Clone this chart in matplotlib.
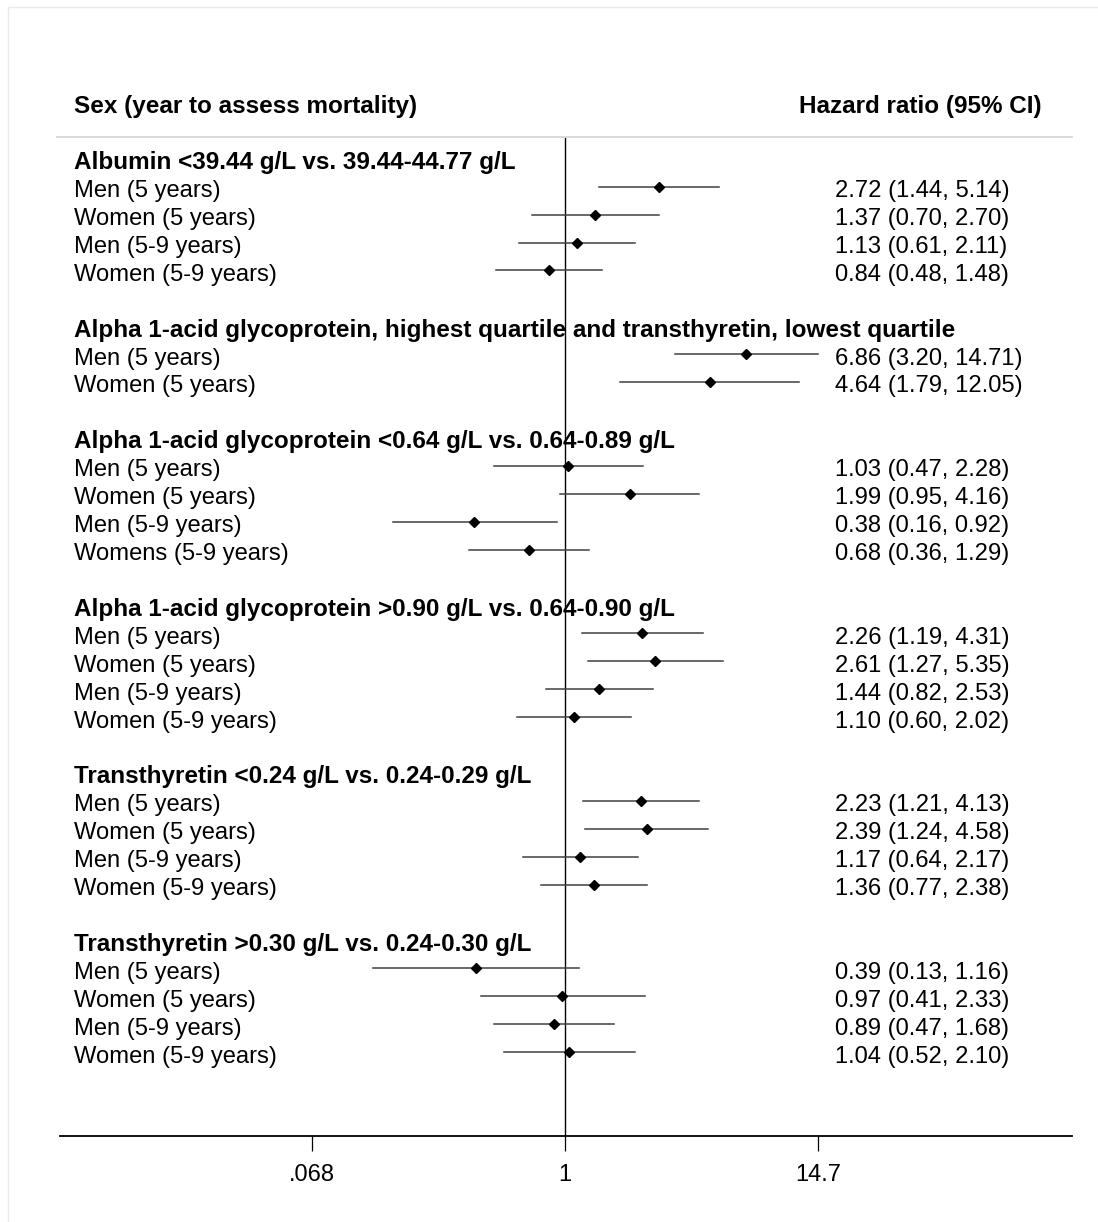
import matplotlib
matplotlib.use("Agg")
import matplotlib.pyplot as plt
import matplotlib.transforms as mtransforms
from matplotlib.lines import Line2D
from matplotlib.patches import Rectangle

plt.rcParams['font.family'] = ['Liberation Sans', 'DejaVu Sans']

# Subgroup headings and their rows
group_titles = [
    "Albumin <39.44 g/L vs. 39.44-44.77 g/L",
    "Alpha 1-acid glycoprotein, highest quartile and transthyretin, lowest quartile",
    "Alpha 1-acid glycoprotein <0.64 g/L vs. 0.64-0.89 g/L",
    "Alpha 1-acid glycoprotein >0.90 g/L vs. 0.64-0.90 g/L",
    "Transthyretin <0.24 g/L vs. 0.24-0.29 g/L",
    "Transthyretin >0.30 g/L vs. 0.24-0.30 g/L",
]
group_labels = [
    ["Men (5 years)", "Women (5 years)", "Men (5-9 years)", "Women (5-9 years)"],
    ["Men (5 years)", "Women (5 years)"],
    ["Men (5 years)", "Women (5 years)", "Men (5-9 years)", "Womens (5-9 years)"],
    ["Men (5 years)", "Women (5 years)", "Men (5-9 years)", "Women (5-9 years)"],
    ["Men (5 years)", "Women (5 years)", "Men (5-9 years)", "Women (5-9 years)"],
    ["Men (5 years)", "Women (5 years)", "Men (5-9 years)", "Women (5-9 years)"],
]
hazard_ratio = [
    [2.72, 1.37, 1.13, 0.84],
    [6.86, 4.64],
    [1.03, 1.99, 0.38, 0.68],
    [2.26, 2.61, 1.44, 1.10],
    [2.23, 2.39, 1.17, 1.36],
    [0.39, 0.97, 0.89, 1.04],
]
ci_low = [
    [1.44, 0.70, 0.61, 0.48],
    [3.20, 1.79],
    [0.47, 0.95, 0.16, 0.36],
    [1.19, 1.27, 0.82, 0.60],
    [1.21, 1.24, 0.64, 0.77],
    [0.13, 0.41, 0.47, 0.52],
]
ci_high = [
    [5.14, 2.70, 2.11, 1.48],
    [14.71, 12.05],
    [2.28, 4.16, 0.92, 1.29],
    [4.31, 5.35, 2.53, 2.02],
    [4.13, 4.58, 2.17, 2.38],
    [1.16, 2.33, 1.68, 2.10],
]
tick_values = [0.068, 1, 14.7]
tick_labels = [".068", "1", "14.7"]

W, H = 1098, 1222
fig = plt.figure(figsize=(W / 100, H / 100), dpi=100)
fig.patch.set_facecolor("white")

# faint frame on left and top
fig.patches.append(Rectangle((8 / W, -0.5), 2.0, 0.5 + (1 - 7 / H),
                             transform=fig.transFigure, fill=False,
                             edgecolor="#e3ecec", linewidth=1.0))

ax_left, ax_right = 60 / W, 1072 / W
ax_top, ax_bottom = 1 - 138 / H, 1 - 1136 / H
ax = fig.add_axes([ax_left, ax_bottom, ax_right - ax_left, ax_top - ax_bottom])
ax.set_xscale("log")
ax.set_xlim(10 ** -2.33, 10 ** 2.338)
ax.set_ylim(35.0, -0.745)
for side in ("top", "left", "right"):
    ax.spines[side].set_visible(False)
ax.spines["bottom"].set_linewidth(1.3)
ax.set_yticks([])
ax.set_xticks(tick_values)
ax.set_xticklabels(tick_labels)
ax.minorticks_off()
ax.tick_params(axis="x", length=11, width=0.9, pad=9, labelsize=17)
ax.set_facecolor("none")

# line of no effect
ax.axvline(1, color="black", linewidth=1.0, zorder=1)

text_tf = mtransforms.blended_transform_factory(fig.transFigure, ax.transData)
label_x = 74 / W
value_x = 835 / W
base_off = 0.37
fs = 17.1
fs_bold = 17.45

row = 0
for g, title in enumerate(group_titles):
    ax.text(label_x, row + base_off, title, transform=text_tf, fontsize=fs_bold,
            fontweight="bold", va="baseline", ha="left", clip_on=False)
    row += 1
    for lab, est, lo, hi in zip(group_labels[g], hazard_ratio[g], ci_low[g], ci_high[g]):
        ax.plot([lo, hi], [row, row], color="#404040", linewidth=1.1, zorder=2)
        ax.plot([est], [row], marker="D", markersize=4.8, color="black",
                linestyle="none", zorder=3)
        ax.text(label_x, row + base_off, lab, transform=text_tf, fontsize=fs,
                va="baseline", ha="left", clip_on=False)
        ax.text(value_x, row + base_off, f"{est:.2f} ({lo:.2f}, {hi:.2f})",
                transform=text_tf, fontsize=fs, va="baseline", ha="left",
                clip_on=False)
        row += 1
    row += 1

# column headings and rule beneath them
fig.text(74 / W, 1 - 112.5 / H, "Sex (year to assess mortality)", fontsize=fs_bold,
         fontweight="bold", va="baseline", ha="left")
fig.text(1042 / W, 1 - 112.5 / H, "Hazard ratio (95% CI)", fontsize=fs_bold,
         fontweight="bold", va="baseline", ha="right")
fig.lines.append(Line2D([57 / W, 1072 / W], [1 - 137 / H, 1 - 137 / H],
                        transform=fig.transFigure, color="#d6d6d6", linewidth=1.3))

fig.savefig("out.png", dpi=100, facecolor="white")
